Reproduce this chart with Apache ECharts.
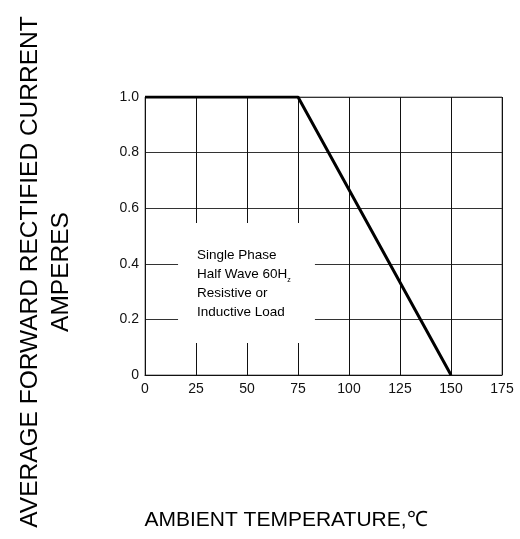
<!DOCTYPE html>
<html>
<head>
<meta charset="utf-8">
<script src="https://cdn.jsdelivr.net/npm/echarts@6/dist/echarts.min.js"></script>
<style>html,body{margin:0;padding:0;background:#fff}#c{width:520px;height:539px}</style>
</head>
<body>
<div id="c"></div>
<script>
const temps = [0, 75, 150];
const current = [1.0, 1.0, 0];
const xTicks = [0, 25, 50, 75, 100, 125, 150, 175];
const yTicks = [0, 0.2, 0.4, 0.6, 0.8, 1.0];
const noteLines = ['Single Phase', 'Half Wave 60H{s|z}', 'Resistive or', 'Inductive Load'];
const noteBox = [[16.2, 0.115], [83.3, 0.547]];
const xTitle = 'AMBIENT TEMPERATURE,\u2103';
const yTitle = 'AVERAGE FORWARD RECTIFIED CURRENT\nAMPERES';

const chart = echarts.init(document.getElementById('c'));
const FONT = 'Liberation Sans, Arial, sans-serif';
chart.setOption({
  animation: false,
  backgroundColor: '#fff',
  grid: { left: 145, right: 18, top: 97, bottom: 164, show: true, borderColor: '#777', borderWidth: 1,
    containLabel: false, outerBoundsMode: 'none' },
  xAxis: {
    type: 'value', min: 0, max: 175, interval: 25,
    axisLine: { show: true, onZero: false, lineStyle: { color: '#111', width: 1 } },
    axisTick: { show: false },
    axisLabel: { color: '#111', fontSize: 14, fontFamily: FONT, margin: 7,
      formatter: v => xTicks.includes(v) ? String(v) : '' },
    splitLine: { show: true, lineStyle: { color: '#111', width: 1 } }
  },
  yAxis: {
    type: 'value', min: 0, max: 1.0, interval: 0.2,
    axisLine: { show: true, lineStyle: { color: '#111', width: 1 } },
    axisTick: { show: false },
    axisLabel: { color: '#111', fontSize: 14, fontFamily: FONT, margin: 6,
      formatter: v => { const t = yTicks.find(y => Math.abs(y - v) < 1e-9); return t === undefined ? '' : (t === 0 ? '0' : t.toFixed(1)); } },
    splitLine: { show: true, lineStyle: { color: '#333', width: 1 } }
  },
  graphic: [
    { type: 'text', x: 46, y: 272, rotation: Math.PI / 2,
      style: { text: yTitle, fill: '#000', font: '24.5px ' + FONT, lineHeight: 31, align: 'center', verticalAlign: 'middle' } },
    { type: 'text', x: 286, y: 520,
      style: { text: xTitle, fill: '#000', font: '21px ' + FONT, align: 'center', verticalAlign: 'middle' } }
  ],
  series: [{
    type: 'line',
    data: temps.map((t, i) => [t, current[i]]),
    showSymbol: false,
    lineStyle: { color: '#000', width: 3 },
    z: 5,
    markArea: {
      silent: true,
      itemStyle: { color: '#fff', opacity: 1 },
      label: {
        show: true, position: [19, 23], color: '#000', fontFamily: FONT, fontSize: 13.5,
        lineHeight: 19, align: 'left',
        formatter: noteLines.join('\n'),
        rich: { s: { fontSize: 7, fontFamily: FONT, color: '#000', verticalAlign: 'bottom', lineHeight: 19 } }
      },
      data: [[{ coord: noteBox[0] }, { coord: noteBox[1] }]]
    }
  }]
});
</script>
</body>
</html>
